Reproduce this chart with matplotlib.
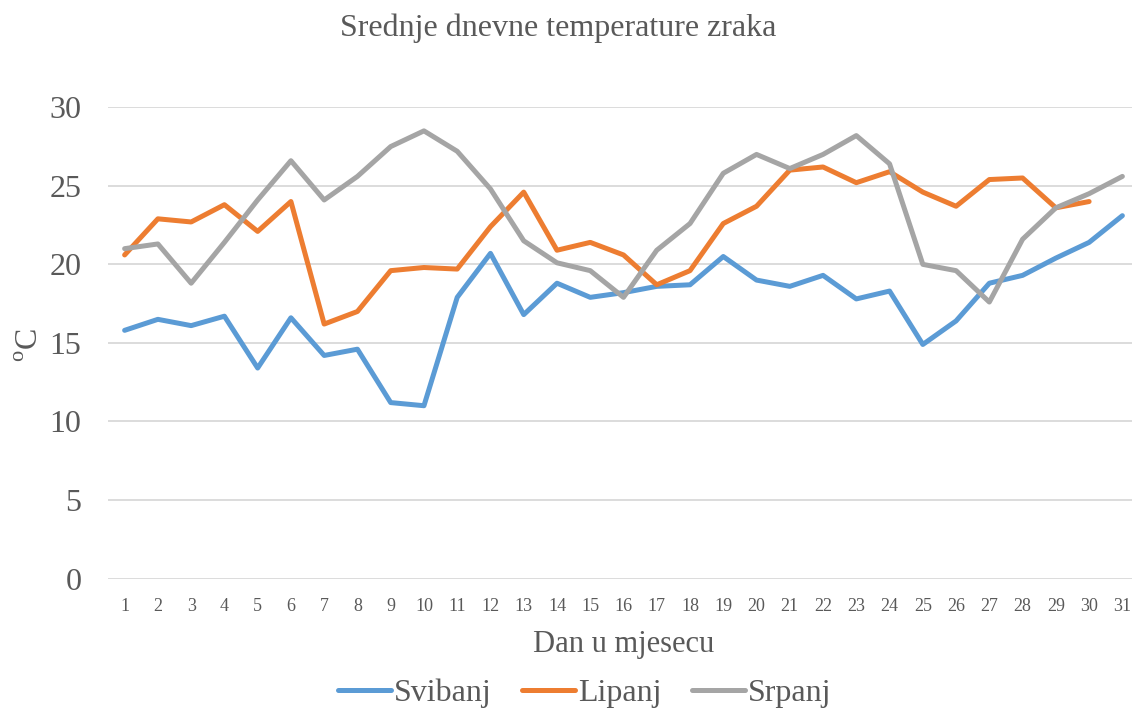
import matplotlib
matplotlib.use('Agg')
import matplotlib.pyplot as plt

days = list(range(1, 32))
svibanj = [15.8, 16.5, 16.1, 16.7, 13.4, 16.6, 14.2, 14.6, 11.2, 11.0,
           17.9, 20.7, 16.8, 18.8, 17.9, 18.2, 18.6, 18.7, 20.5, 19.0,
           18.6, 19.3, 17.8, 18.3, 14.9, 16.4, 18.8, 19.3, 20.4, 21.4, 23.1]
lipanj = [20.6, 22.9, 22.7, 23.8, 22.1, 24.0, 16.2, 17.0, 19.6, 19.8,
          19.7, 22.4, 24.6, 20.9, 21.4, 20.6, 18.7, 19.6, 22.6, 23.7,
          26.0, 26.2, 25.2, 25.9, 24.6, 23.7, 25.4, 25.5, 23.6, 24.0]
srpanj = [21.0, 21.3, 18.8, 21.4, 24.1, 26.6, 24.1, 25.6, 27.5, 28.5,
          27.2, 24.8, 21.5, 20.1, 19.6, 17.9, 20.9, 22.6, 25.8, 27.0,
          26.1, 27.0, 28.2, 26.4, 20.0, 19.6, 17.6, 21.6, 23.6, 24.5, 25.6]
y_ticks = [0, 5, 10, 15, 20, 25, 30]

plt.rcParams['font.family'] = ['Liberation Serif', 'DejaVu Serif']
plt.rcParams['mathtext.fontset'] = 'custom'
plt.rcParams['mathtext.rm'] = 'Liberation Serif'
text_color = '#595959'

fig = plt.figure(figsize=(11.32, 7.2), dpi=100)
ax = fig.add_axes([108 / 1132, 1 - 578.5 / 720, 1031 / 1132, 471.2 / 720])

ax.plot(days, svibanj, color='#5B9BD5', lw=3.6, label='Svibanj', solid_capstyle='round')
ax.plot(days[:30], lipanj, color='#ED7D31', lw=3.6, label='Lipanj', solid_capstyle='round')
ax.plot(days, srpanj, color='#A5A5A5', lw=3.6, label='Srpanj', solid_capstyle='round')

ax.set_xlim(0.5, 31.5)
ax.set_ylim(0, 30)
ax.set_yticks(y_ticks)
ax.set_xticks(days)
ax.grid(axis='y', color='#D9D9D9', lw=1.3)
ax.set_axisbelow(True)
for s in ax.spines.values():
    s.set_visible(False)
ax.tick_params(length=0, colors=text_color)
ax.tick_params(axis='y', labelsize=23, pad=19)
ax.tick_params(axis='x', labelsize=13, pad=14)

ax.set_xlabel('Dan u mjesecu', fontsize=22, color=text_color, labelpad=11)
fig.text(30 / 1132, 1 - 345 / 720, r'$^{\rm o}$C', rotation=90, fontsize=23,
         color=text_color, ha='center', va='center')
fig.text(558 / 1132, 1 - 28 / 720, 'Srednje dnevne temperature zraka',
         fontsize=23, color=text_color, ha='center', va='center')

leg = fig.legend(loc='center', bbox_to_anchor=(585 / 1132, 27 / 720), ncol=3,
                 frameon=False, fontsize=23, handlelength=1.65, handletextpad=0.1,
                 columnspacing=0.95)
for t in leg.get_texts():
    t.set_color(text_color)

fig.savefig('out.png', dpi=100)
